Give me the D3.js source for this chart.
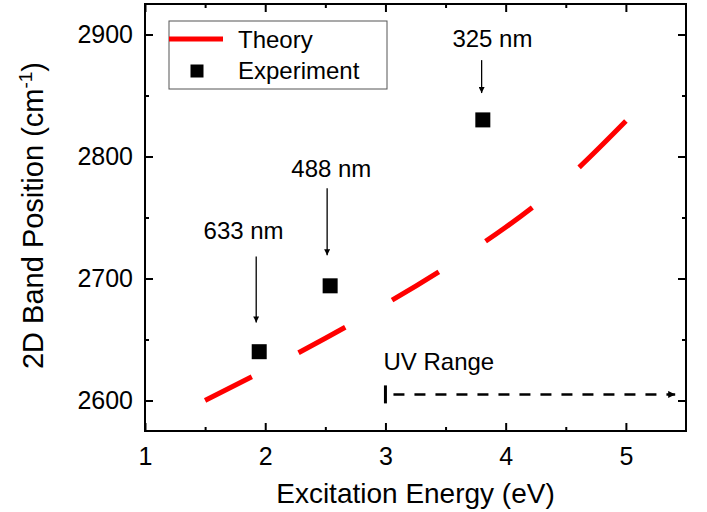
<!DOCTYPE html>
<html>
<head>
<meta charset="utf-8">
<script src="https://cdn.jsdelivr.net/npm/d3@7"></script>
<style>
  body { margin: 0; background: #fff; }
  svg { display: block; font-family: "Liberation Sans", Arial, Helvetica, sans-serif; }
</style>
</head>
<body>
<div id="chart"></div>
<script>
// theory curve (sampled) and experimental points
var energy = [1.5, 2.0, 2.5, 3.0, 3.5, 4.0, 4.5, 5.0];
var theory = [2600, 2625, 2651, 2679, 2709, 2742, 2781, 2829];

var expEnergy = [1.95, 2.54, 3.81];
var expValue = [2640, 2694, 2830];
var expLabels = ["633 nm", "488 nm", "325 nm"];

var xTicks = [1, 2, 3, 4, 5];
var yTicks = [2600, 2700, 2800, 2900];

// annotation anchors, in data units
var labelE = [1.82, 2.55, 3.89];
var labelV = [2732, 2783.5, 2890];
var arrowE = [1.925, 2.515, 3.80];
var arrowTop = [2718, 2774, 2879];
var arrowTip = [2664, 2719, 2852];

var W = 707, H = 512;
var margin = { top: 4, right: 21, bottom: 81, left: 145 },
  width = W - margin.left - margin.right,
  height = H - margin.top - margin.bottom;

var x = d3.scaleLinear().domain([1, 5.5]).range([0, width]);
var y = d3.scaleLinear().domain([2575, 2925]).range([height, 0]);

var svg = d3.select("#chart").append("svg")
  .attr("width", W)
  .attr("height", H);

var defs = svg.append("defs");
defs.append("marker")
  .attr("id", "thinHead")
  .attr("markerUnits", "userSpaceOnUse")
  .attr("viewBox", "0 0 10 10")
  .attr("refX", 10).attr("refY", 5)
  .attr("markerWidth", 9).attr("markerHeight", 6)
  .attr("orient", "auto")
  .append("path").attr("d", "M0,0L10,5L0,10z").attr("fill", "#000");
defs.append("marker")
  .attr("id", "uvHead")
  .attr("markerUnits", "userSpaceOnUse")
  .attr("viewBox", "0 0 10 10")
  .attr("refX", 10).attr("refY", 5)
  .attr("markerWidth", 12).attr("markerHeight", 7)
  .attr("orient", "auto")
  .append("path").attr("d", "M0,0L10,5L0,10z").attr("fill", "#000");

var g = svg.append("g")
  .attr("transform", "translate(" + margin.left + "," + margin.top + ")");

/********** AXES ***********/
var xMinor = [1.5, 2.5, 3.5, 4.5];
var yMinor = [2650, 2750, 2850];

function noDomain(s) { s.select(".domain").remove(); }

g.append("g")
  .attr("transform", "translate(0," + height + ")")
  .call(d3.axisBottom(x).tickValues(xTicks).tickFormat(d3.format("d")).tickSize(-8).tickPadding(16))
  .call(noDomain);
g.append("g")
  .attr("transform", "translate(0," + height + ")")
  .call(d3.axisBottom(x).tickValues(xMinor).tickFormat("").tickSize(-4))
  .call(noDomain);
g.append("g")
  .call(d3.axisTop(x).tickValues(xTicks).tickFormat("").tickSize(-8))
  .call(noDomain);
g.append("g")
  .call(d3.axisTop(x).tickValues(xMinor).tickFormat("").tickSize(-4))
  .call(noDomain);

g.append("g")
  .call(d3.axisLeft(y).tickValues(yTicks).tickFormat(d3.format("d")).tickSize(-8).tickPadding(12))
  .call(noDomain);
g.append("g")
  .call(d3.axisLeft(y).tickValues(yMinor).tickFormat("").tickSize(-4))
  .call(noDomain);
g.append("g")
  .attr("transform", "translate(" + width + ",0)")
  .call(d3.axisRight(y).tickValues(yTicks).tickFormat("").tickSize(-8))
  .call(noDomain);
g.append("g")
  .attr("transform", "translate(" + width + ",0)")
  .call(d3.axisRight(y).tickValues(yMinor).tickFormat("").tickSize(-4))
  .call(noDomain);

g.selectAll(".tick line").attr("stroke", "#000").attr("stroke-width", 2);
g.selectAll(".tick text").attr("fill", "#000").style("font-size", "25px")
  .style("font-family", "'Liberation Sans', Arial, Helvetica, sans-serif");

g.append("rect")
  .attr("width", width).attr("height", height)
  .attr("fill", "none").attr("stroke", "#000").attr("stroke-width", 2);

// axis titles
svg.append("text")
  .attr("x", margin.left + x(3.25))
  .attr("y", 503)
  .attr("text-anchor", "middle")
  .style("font-size", "28px")
  .text("Excitation Energy (eV)");

var yt = svg.append("text")
  .attr("transform", "translate(43," + (margin.top + y(2750) - 2) + ") rotate(-90)")
  .attr("text-anchor", "middle")
  .style("font-size", "29px");
yt.append("tspan").text("2D Band Position (cm");
yt.append("tspan").attr("dy", -11).style("font-size", "19px").text("-1");
yt.append("tspan").attr("dy", 11).text(")");

/********** THEORY (dashed) ***********/
var theoryData = energy.map(function (e, i) { return [e, theory[i]]; });
var line = d3.line()
  .x(function (d) { return x(d[0]); })
  .y(function (d) { return y(d[1]); })
  .curve(d3.curveNatural);
var theoryPath = g.append("path")
  .datum(theoryData)
  .attr("d", line)
  .attr("fill", "none")
  .attr("stroke", "#ff0000")
  .attr("stroke-width", 5);

// dashes equally spaced along energy: 5 dashes, 4 gaps
var node = theoryPath.node();
var total = node.getTotalLength();
function lengthAtX(px) {
  var lo = 0, hi = total;
  for (var k = 0; k < 40; k++) {
    var mid = (lo + hi) / 2;
    if (node.getPointAtLength(mid).x < px) lo = mid; else hi = mid;
  }
  return (lo + hi) / 2;
}
var e0 = energy[0], e1 = energy[energy.length - 1];
var bounds = d3.range(10).map(function (k) { return lengthAtX(x(e0 + k * (e1 - e0) / 9)); });
var dash = [];
for (var k = 1; k < bounds.length; k++) dash.push((bounds[k] - bounds[k - 1]).toFixed(2));
theoryPath.attr("stroke-dasharray", dash.join(","));

/********** EXPERIMENT ***********/
var sq = 15;
g.selectAll(".exp")
  .data(expEnergy)
  .enter().append("rect")
  .attr("class", "exp")
  .attr("x", function (d) { return x(d) - sq / 2; })
  .attr("y", function (d, i) { return y(expValue[i]) - sq / 2; })
  .attr("width", sq).attr("height", sq)
  .attr("fill", "#000");

// wavelength annotations
g.selectAll(".lab")
  .data(expLabels)
  .enter().append("text")
  .attr("class", "lab")
  .attr("x", function (d, i) { return x(labelE[i]); })
  .attr("y", function (d, i) { return y(labelV[i]); })
  .attr("text-anchor", "middle")
  .style("font-size", "24px")
  .text(function (d) { return d; });

g.selectAll(".arr")
  .data(expLabels)
  .enter().append("line")
  .attr("class", "arr")
  .attr("x1", function (d, i) { return x(arrowE[i]); })
  .attr("x2", function (d, i) { return x(arrowE[i]); })
  .attr("y1", function (d, i) { return y(arrowTop[i]); })
  .attr("y2", function (d, i) { return y(arrowTip[i]); })
  .attr("stroke", "#000").attr("stroke-width", 1.3)
  .attr("marker-end", "url(#thinHead)");

/********** UV RANGE ***********/
var uvStart = 3.0, uvEnd = 5.41, uvLevel = 2605;
g.append("line")
  .attr("x1", x(uvStart)).attr("x2", x(uvStart))
  .attr("y1", y(uvLevel) - 9).attr("y2", y(uvLevel) + 9)
  .attr("stroke", "#000").attr("stroke-width", 3);
g.append("line")
  .attr("x1", x(uvStart)).attr("x2", x(uvEnd))
  .attr("y1", y(uvLevel)).attr("y2", y(uvLevel))
  .attr("stroke", "#000").attr("stroke-width", 2.5)
  .attr("stroke-dasharray", "11,10")
  .attr("stroke-dashoffset", -8)
  .attr("marker-end", "url(#uvHead)");
g.append("text")
  .attr("x", x(uvStart) - 2)
  .attr("y", y(uvLevel) - 24)
  .style("font-size", "24px")
  .text("UV Range");

/********** LEGEND ***********/
var leg = svg.append("g").attr("transform", "translate(169,21)");
leg.append("rect")
  .attr("width", 218).attr("height", 68)
  .attr("fill", "#fff").attr("stroke", "#555").attr("stroke-width", 1);
leg.append("line")
  .attr("x1", 0).attr("x2", 54).attr("y1", 18).attr("y2", 18)
  .attr("stroke", "#ff0000").attr("stroke-width", 5);
leg.append("rect")
  .attr("x", 28 - 6.5).attr("y", 50 - 6.5).attr("width", 13).attr("height", 13)
  .attr("fill", "#000");
leg.append("text").attr("x", 69).attr("y", 27).style("font-size", "24px").text("Theory");
leg.append("text").attr("x", 69).attr("y", 58).style("font-size", "24px").text("Experiment");
</script>
</body>
</html>
